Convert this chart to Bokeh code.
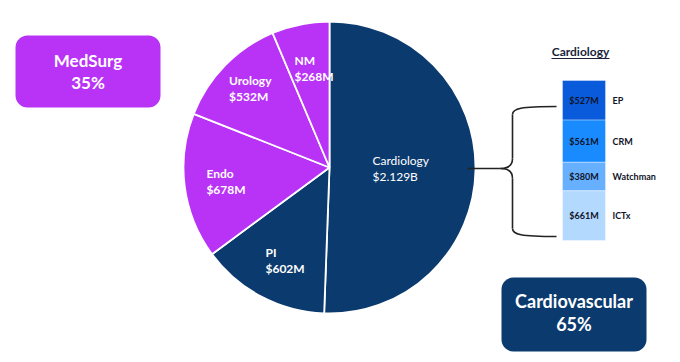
import math
from bokeh.plotting import figure
from bokeh.models import Range1d, BoxAnnotation
from bokeh.core.properties import value
from bokeh.embed import file_html
from bokeh.resources import INLINE

# ---- data ----
segments = ["Cardiology", "PI", "Endo", "Urology", "NM"]
seg_values = [2129, 602, 678, 532, 268]          # $M
seg_labels = ["$2.129B", "$602M", "$678M", "$532M", "$268M"]
seg_group = ["Cardiovascular", "Cardiovascular", "MedSurg", "MedSurg", "MedSurg"]

cardio_parts = ["EP", "CRM", "Watchman", "ICTx"]
cardio_values = [527, 561, 380, 661]              # $M
cardio_labels = ["$527M", "$561M", "$380M", "$661M"]

group_names = ["MedSurg", "Cardiovascular"]
group_pct = ["35%", "65%"]

# ---- style ----
NAVY = "#0B3A6E"
PURPLE = "#B933F7"
group_color = {"Cardiovascular": NAVY, "MedSurg": PURPLE}
bar_colors = ["#0A5BDB", "#1A8BFF", "#66B0FF", "#B4D9FF"]
FONT = value("Lato")

W, H = 680, 362
p = figure(width=W, height=H, x_range=Range1d(0, W), y_range=Range1d(0, H),
           output_backend="svg", toolbar_location=None, min_border=0)
p.axis.visible = False
p.grid.visible = False
p.outline_line_color = None
p.background_fill_color = "white"
p.border_fill_color = "white"

def Y(v):
    return 362 - v

# ---- group boxes (underlay) ----
boxes = [(15, 160, 35, 107), (501, 646, 277, 351)]
for (l, r, t, b), name in zip(boxes, group_names):
    p.add_layout(BoxAnnotation(left=l, right=r, top=Y(t), bottom=Y(b), fill_color=group_color[name],
                               fill_alpha=1, line_color=None, border_radius=12, level="underlay"))

# ---- pie ----
cx, cy, R = 329, Y(167), 146
total = sum(seg_values)
cum = 0
starts, ends, mids = [], [], []
for v in seg_values:
    f0 = cum / total
    cum += v
    f1 = cum / total
    starts.append(math.pi / 2 - f1 * 2 * math.pi)
    ends.append(math.pi / 2 - f0 * 2 * math.pi)
    mids.append((f0 + f1) / 2 * 2 * math.pi)
p.wedge(x=cx, y=cy, radius=R, start_angle=starts, end_angle=ends, direction="anticlock",
        fill_color=[group_color[g] for g in seg_group], line_color="white", line_width=1.8)

label_r = [70, 105, 109, 113, 101]
char_w = [5.4, 6.0, 6.0, 5.6, 6.0]
lx, ly, lt = [], [], []
for i, name in enumerate(segments):
    th = mids[i]
    ccx = cx + label_r[i] * math.sin(th)
    ccy = cy + label_r[i] * math.cos(th)
    w = char_w[i] * max(len(name), len(seg_labels[i]))
    lx.append(ccx - w / 2)
    ly.append(ccy)
    lt.append(name + "\n" + seg_labels[i])
p.text(x=lx[:1], y=ly[:1], text=lt[:1], text_font=FONT, text_font_size="12px",
       text_color="white", text_align="left", text_baseline="middle", text_line_height=1.05)
p.text(x=lx[1:], y=ly[1:], text=lt[1:], text_font=FONT, text_font_size="12px", text_font_style="bold",
       text_color="white", text_align="left", text_baseline="middle", text_line_height=1.05)

# ---- cardiology stacked bar ----
bar_top_px, bar_bot_px = Y(80), Y(240)
ctotal = sum(cardio_values)
k = ctotal / (bar_top_px - bar_bot_px)
p.extra_y_ranges = {"bar": Range1d(-bar_bot_px * k, ctotal + (H - bar_top_px) * k)}
tops, bots = [], []
acc = ctotal
for v in cardio_values:
    tops.append(acc)
    bots.append(acc - v)
    acc -= v
p.quad(left=562, right=605, top=tops, bottom=bots, fill_color=bar_colors,
       line_color="white", line_width=0.6, line_alpha=0.6, y_range_name="bar")
mids_b = [(t + b) / 2 for t, b in zip(tops, bots)]
p.text(x=583.5, y=mids_b, text=cardio_labels, y_range_name="bar", text_font=FONT,
       text_font_size="9px", text_font_style="bold", text_color="#111428",
       text_align="center", text_baseline="middle")
p.text(x=612, y=mids_b, text=cardio_parts, y_range_name="bar", text_font=FONT,
       text_font_size="9px", text_font_style="bold", text_color="#111428",
       text_align="left", text_baseline="middle")

# title with underline
p.text(x=[580], y=[Y(51)], text=["Cardiology"], text_font=FONT, text_font_size="12px",
       text_font_style="bold", text_color="#1B1F3B", text_align="center", text_baseline="middle")
p.line(x=[551, 609], y=[Y(58), Y(58)], line_color="#1B1F3B", line_width=1)

# ---- brace ----
bc = "#222222"
p.bezier(x0=[556, 512, 500, 512], y0=[Y(106), Y(158), Y(168), Y(228)],
         x1=[512, 500, 512, 556], y1=[Y(114), Y(168), Y(178), Y(236)],
         cx0=[520, 512, 506, 512], cy0=[Y(106), Y(166), Y(168), Y(234)],
         cx1=[512, 506, 512, 520], cy1=[Y(108), Y(168), Y(170), Y(236)],
         line_color=bc, line_width=1.6)
p.segment(x0=[512, 512, 467], y0=[Y(114), Y(178), Y(168)],
          x1=[512, 512, 500], y1=[Y(158), Y(228), Y(168)], line_color=bc, line_width=1.6)

# ---- group box texts ----
p.text(x=[87.5], y=[Y(71)], text=[group_names[0] + "\n" + group_pct[0]], text_font=FONT,
       text_font_size="17px", text_font_style="bold", text_color="white",
       text_align="center", text_baseline="middle", text_line_height=1.05)
p.text(x=[573.5], y=[Y(312)], text=[group_names[1] + "\n" + group_pct[1]], text_font=FONT,
       text_font_size="18px", text_font_style="bold", text_color="white",
       text_align="center", text_baseline="middle", text_line_height=1.05)

open("out.html", "w").write(file_html(p, INLINE))
